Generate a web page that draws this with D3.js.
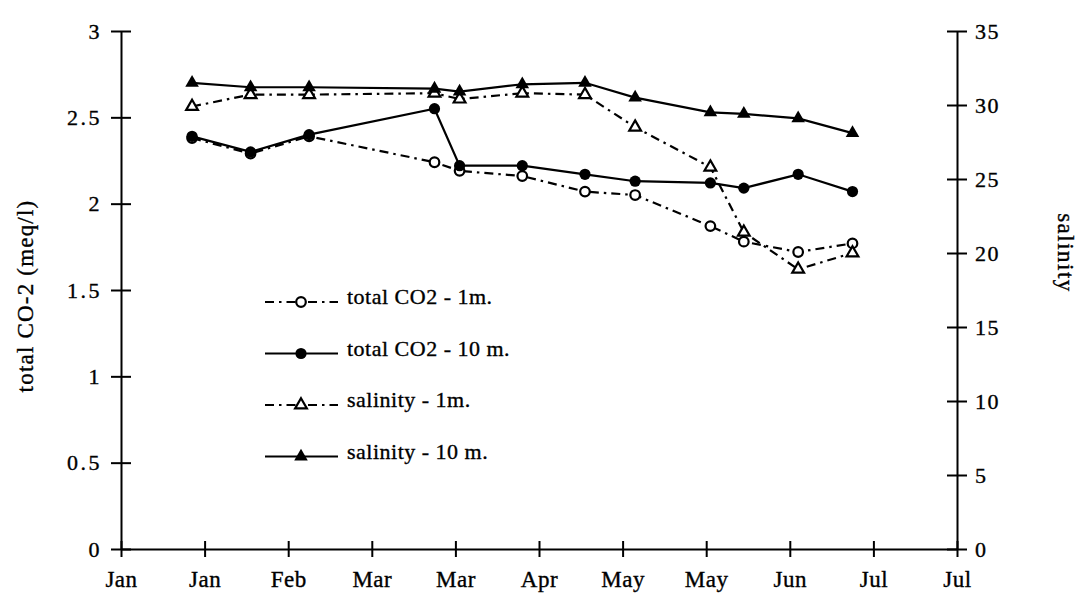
<!DOCTYPE html>
<html>
<head>
<meta charset="utf-8">
<script src="https://cdn.jsdelivr.net/npm/d3@7/dist/d3.min.js"></script>
<style>
  html, body { margin: 0; padding: 0; background: #fff; }
  svg text { font-family: "Liberation Serif", "Times New Roman", Times, serif; fill: #000; stroke: #000; stroke-width: 0.35px; }
</style>
</head>
<body>
<svg id="chart" width="1081" height="606"></svg>
<script>
// Sampling dates
const sampleDates = ["1995-01-22", "1995-02-05", "1995-02-19", "1995-03-21", "1995-03-27", "1995-04-11",
                     "1995-04-26", "1995-05-08", "1995-05-26", "1995-06-03", "1995-06-16", "1995-06-29"];
// Total CO2 (meq/l)
const co2Surface = [2.38, 2.29, 2.39, 2.24, 2.19, 2.16, 2.07, 2.05, 1.87, 1.78, 1.72, 1.77];
const co2Deep    = [2.39, 2.30, 2.40, 2.55, 2.22, 2.22, 2.17, 2.13, 2.12, 2.09, 2.17, 2.07];
// Salinity
const salSurface = [29.9, 30.7, 30.7, 30.8, 30.4, 30.8, 30.7, 28.5, 25.8, 21.4, 18.9, 20.0];
const salDeep    = [31.5, 31.2, 31.2, 31.1, 30.9, 31.4, 31.5, 30.5, 29.5, 29.4, 29.1, 28.1];
// Axis ticks
const dateTicks = ["1995-01-05", "1995-01-25", "1995-02-14", "1995-03-06", "1995-03-26", "1995-04-15",
                   "1995-05-05", "1995-05-25", "1995-06-14", "1995-07-04", "1995-07-24"];
const co2Ticks = [0, 0.5, 1, 1.5, 2, 2.5, 3];
const salTicks = [0, 5, 10, 15, 20, 25, 30, 35];
const legendLabels = ["total CO2 - 1m.", "total CO2 - 10 m.", "salinity - 1m.", "salinity - 10 m."];

const parse = d3.utcParse("%Y-%m-%d");
const dates = sampleDates.map(parse);
const tickDates = dateTicks.map(parse);

const svg = d3.select("#chart");
const plotLeft = 121, plotRight = 957, plotTop = 31, plotBottom = 549;
const fontSize = 22;

const x = d3.scaleUtc().domain([tickDates[0], tickDates[tickDates.length - 1]]).range([plotLeft, plotRight]);
const yL = d3.scaleLinear().domain([0, 3]).range([plotBottom, plotTop]);
const yR = d3.scaleLinear().domain([0, 35]).range([plotBottom, plotTop]);

function styleAxis(g) {
  g.select(".domain").attr("stroke", "#000").attr("stroke-width", 2);
  g.selectAll(".tick line").attr("stroke", "#000").attr("stroke-width", 2);
  g.selectAll(".tick text").attr("font-size", fontSize);
}

// x axis
const gx = svg.append("g").attr("transform", `translate(0,${plotBottom})`)
  .call(d3.axisBottom(x).tickValues(tickDates).tickFormat(d3.utcFormat("%b")).tickSizeOuter(0).tickSize(0).tickPadding(33));
styleAxis(gx);
gx.selectAll(".tick line").attr("y1", -8).attr("y2", 8);
gx.selectAll(".tick text").attr("font-size", 23).attr("dy", "0.2em").attr("letter-spacing", 0.5);

// left axis
const gl = svg.append("g").attr("transform", `translate(${plotLeft},0)`)
  .call(d3.axisLeft(yL).tickValues(co2Ticks).tickFormat(d3.format("")).tickSizeOuter(0).tickSize(0).tickPadding(20));
styleAxis(gl);
gl.selectAll(".tick line").attr("x1", -10).attr("x2", 10);
gl.selectAll(".tick text").attr("letter-spacing", 2.5).attr("x", -19);

// right axis
const gr = svg.append("g").attr("transform", `translate(${plotRight},0)`)
  .call(d3.axisRight(yR).tickValues(salTicks).tickFormat(d3.format("")).tickSizeOuter(0).tickSize(0).tickPadding(18));
styleAxis(gr);
gr.selectAll(".tick line").attr("x1", -10).attr("x2", 10);
gr.selectAll(".tick text").attr("letter-spacing", 1.5);

// axis titles
svg.append("text")
  .attr("transform", `translate(33,296) rotate(-90)`)
  .attr("text-anchor", "middle")
  .attr("font-size", 23)
  .attr("letter-spacing", 1.2)
  .text("total CO-2 (meq/l)");
svg.append("text")
  .attr("transform", `translate(1058,253) rotate(90)`)
  .attr("text-anchor", "middle")
  .attr("font-size", 23)
  .attr("letter-spacing", 1.5)
  .text("salinity");

const dashDot = "9,5,2.5,5";

const series = [
  { values: co2Surface, y: yL, dash: dashDot, marker: "openCircle" },
  { values: co2Deep, y: yL, dash: null, marker: "dot" },
  { values: salSurface, y: yR, dash: dashDot, marker: "openTriangle" },
  { values: salDeep, y: yR, dash: null, marker: "triangle" }
];

function drawMarker(g, type, cx, cy) {
  if (type === "dot") {
    g.append("circle").attr("cx", cx).attr("cy", cy).attr("r", 5.6).attr("fill", "#000");
  } else if (type === "openCircle") {
    g.append("circle").attr("cx", cx).attr("cy", cy).attr("r", 4.8)
      .attr("fill", "#fff").attr("stroke", "#000").attr("stroke-width", 2.2);
  } else if (type === "triangle") {
    g.append("path").attr("d", d3.symbol(d3.symbolTriangle, 80)())
      .attr("transform", `translate(${cx},${cy})`).attr("fill", "#000");
  } else {
    g.append("path").attr("d", d3.symbol(d3.symbolTriangle, 60)())
      .attr("transform", `translate(${cx},${cy})`)
      .attr("fill", "#fff").attr("stroke", "#000").attr("stroke-width", 2.2);
  }
}

series.forEach(s => {
  const line = d3.line().x((d, i) => x(dates[i])).y(d => s.y(d));
  svg.append("path").datum(s.values)
    .attr("d", line)
    .attr("fill", "none")
    .attr("stroke", "#000")
    .attr("stroke-width", 2.2)
    .attr("stroke-dasharray", s.dash);
  const g = svg.append("g");
  s.values.forEach((v, i) => drawMarker(g, s.marker, x(dates[i]), s.y(v)));
});

// legend
const legend = svg.append("g");
legendLabels.forEach((label, i) => {
  const ly = 302 + i * 51.5;
  const s = series[i];
  legend.append("line").attr("x1", 265).attr("x2", 338).attr("y1", ly).attr("y2", ly)
    .attr("stroke", "#000").attr("stroke-width", 2).attr("stroke-dasharray", s.dash);
  drawMarker(legend, s.marker, 301, ly);
  legend.append("text").attr("x", 347).attr("y", ly).attr("dy", "0.1em")
    .attr("font-size", fontSize).attr("letter-spacing", 0.5).text(label);
});
</script>
</body>
</html>
